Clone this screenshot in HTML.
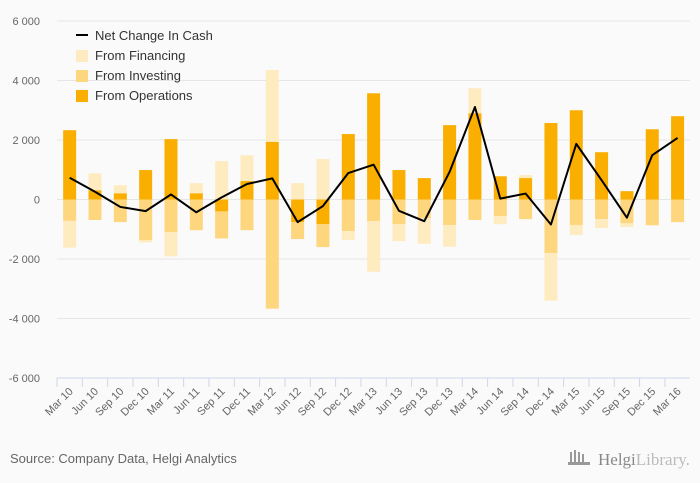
<!DOCTYPE html>
<html><head><meta charset="utf-8"><style>
body{margin:0;background:#fafafa;}
svg{display:block;font-family:"Liberation Sans",sans-serif;}
</style></head><body>
<svg id="chart" width="700" height="483" viewBox="0 0 700 483">
<rect x="0" y="0" width="700" height="483" fill="#fafafa"/>
<g id="grid"></g><g id="bars"></g><g id="line"></g><g id="axes"></g>
<g>
<line x1="76" y1="35" x2="88" y2="35" stroke="#000" stroke-width="2"/>
<text x="95" y="40" font-size="13" fill="#333">Net Change In Cash</text>
<rect x="76" y="50" width="12" height="12" fill="#ffebc0"/>
<text x="95" y="60" font-size="13" fill="#333">From Financing</text>
<rect x="76" y="70" width="12" height="12" fill="#fdd67e"/>
<text x="95" y="80" font-size="13" fill="#333">From Investing</text>
<rect x="76" y="90" width="12" height="12" fill="#f9ae00"/>
<text x="95" y="100" font-size="13" fill="#333">From Operations</text>
</g>
<text x="10" y="463" font-size="13" fill="#666">Source: Company Data, Helgi Analytics</text>
<g>
<rect x="570" y="452" width="2" height="10" fill="#999"/><rect x="574" y="450" width="2" height="12" fill="#999"/><rect x="578" y="452" width="2" height="10" fill="#999"/><rect x="582" y="454" width="2" height="8" fill="#999"/><rect x="568" y="462" width="22" height="3" fill="#999"/>
<text x="598" y="465" font-size="17" fill="#888" font-family="Liberation Serif,serif">Helgi<tspan fill="#bbb">Library.</tspan></text>
</g>
</svg>
<script>
const categories=["Mar 10","Jun 10","Sep 10","Dec 10","Mar 11","Jun 11","Sep 11","Dec 11","Mar 12","Jun 12","Sep 12","Dec 12","Mar 13","Jun 13","Sep 13","Dec 13","Mar 14","Jun 14","Sep 14","Dec 14","Mar 15","Jun 15","Sep 15","Dec 15","Mar 16"];
const operations=[2330,310,210,990,2030,210,-400,620,1940,-760,-830,2200,3570,990,720,2500,2900,780,720,2570,3000,1590,280,2360,2800];
const investing=[-720,-690,-760,-1370,-1100,-1030,-910,-1030,-3670,-570,-770,-1060,-730,-830,-630,-860,-690,-560,-660,-1800,-860,-660,-800,-860,-760];
const financing=[-900,570,270,-70,-810,340,1290,870,2410,550,1360,-300,-1700,-570,-860,-730,840,-270,100,-1600,-330,-300,-130,-20,0];
const netChange=[730,260,-250,-390,170,-430,70,520,710,-760,-220,890,1170,-380,-730,930,3110,30,200,-840,1870,650,-610,1490,2070];
const yTicks=[-6000,-4000,-2000,0,2000,4000,6000];
const yTickLabels=["-6 000","-4 000","-2 000","0","2 000","4 000","6 000"];
const NS="http://www.w3.org/2000/svg";
const left=57,step=25.33,bw=13;
function y(v){return 199.5-v*0.02975;}
function xc(i){return left+step*(i+0.5);}
function mk(tag,attrs,parent){const e=document.createElementNS(NS,tag);for(const k in attrs)e.setAttribute(k,attrs[k]);document.getElementById(parent).appendChild(e);return e;}
yTicks.forEach((t,i)=>{
 if(t!==-6000){const g=mk('line',{x1:left,x2:690,y1:y(t),y2:y(t),stroke:'#e6e6e6','stroke-width':1},'grid');
 
 }
 const l=mk('text',{x:40,y:y(t)+4,'font-size':11,fill:'#666','text-anchor':'end'},'axes');
 l.textContent=yTickLabels[i];
 
 
});
const ax=mk('line',{x1:left,x2:690,y1:y(-6000),y2:y(-6000),stroke:'#ccd6eb','stroke-width':1},'axes');


const series=[[operations,'#f9ae00','operations'],[investing,'#fdd67e','investing'],[financing,'#ffebc0','financing']];
categories.forEach((c,i)=>{
 let pos=0,neg=0;
 series.forEach(([arr,col,nm])=>{
  const v=arr[i];let y0,y1;
  if(v>=0){y0=pos;y1=pos+v;pos=y1;}else{y0=neg;y1=neg+v;neg=y1;}
  const r=mk('rect',{x:xc(i)-bw/2,width:bw,y:Math.min(y(y0),y(y1)),height:Math.abs(y(y0)-y(y1)),fill:col},'bars');
  
  
 });
 const tk=mk('line',{x1:left+step*i,x2:left+step*i,y1:y(-6000),y2:y(-6000)+9,stroke:'#ccd6eb'},'axes');
 
 
 const tx=xc(i)+4,ty=y(-6000)+14;
 const lb=mk('text',{x:tx,y:ty,'font-size':11,fill:'#666','text-anchor':'end',transform:`rotate(-45 ${tx} ${ty})`},'axes');
 lb.textContent=c;
 
 
});
const pl=mk('polyline',{points:netChange.map((v,i)=>xc(i)+','+y(v)).join(' '),fill:'none',stroke:'#000','stroke-width':2,'stroke-linejoin':'round'},'line');


</script>
</body></html>
